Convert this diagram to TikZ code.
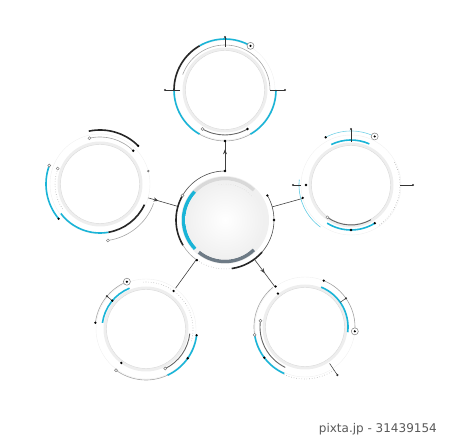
\documentclass[tikz,border=0pt]{standalone}
\usepackage{fontspec}
\newfontfamily\creditfont{DejaVu Sans}
\usetikzlibrary{arrows.meta, decorations.markings}
\definecolor{techcyan}{HTML}{1AB4D7}
\definecolor{slate}{HTML}{6E7B86}
\newcommand{\arcseg}[5][]{\draw[#1] ([shift={(#3:#5pt)}]#2.center) arc[start angle=#3, end angle=#4, radius=#5pt];}
\newcommand{\ringdot}[4][black]{\fill[#1] ([shift={(#3:#4pt)}]#2.center) circle (1.3pt);}
\newcommand{\opendot}[3]{\draw[gray, line width=0.5pt, fill=white] ([shift={(#2:#3pt)}]#1.center) circle (1.5pt);}
\newcommand{\spoke}[4]{\draw[black!80, line width=0.5pt] ([shift={(#2:#3pt)}]#1.center) -- ([shift={(#2:#4pt)}]#1.center); \fill[black!80] ([shift={(#2:#4pt)}]#1.center) circle (1.2pt);}
\newcommand{\knob}[3]{\draw[gray, line width=0.5pt, fill=white] ([shift={(#2:#3pt)}]#1.center) circle (3.5pt); \fill ([shift={(#2:#3pt)}]#1.center) circle (1.2pt);}

\begin{document}
\begin{tikzpicture}[x=1pt, y=1pt,
    sat/.style={circle, minimum size=100pt, inner sep=0pt, outer sep=0pt},
    link/.style={black!75, line width=0.6pt},
    midarrow/.style={postaction={decorate}, decoration={markings,
      mark=at position #1 with {\arrow{Stealth[length=5pt, width=4pt]}}}},
    cyanarc/.style={techcyan, line width=1.6pt},
    blackarc/.style={black!85, line width=1.6pt},
    grayarc/.style={gray!70, line width=0.6pt},
    dotarc/.style={gray!60, line width=0.6pt, dotted},
    darkarc/.style={black!60, line width=0.9pt}]
  \useasboundingbox (0,0) rectangle (450,438);

  \node[sat, minimum size=98pt] (hub) at (225,218) {};
  \node[sat] (top) at (225,348) {};
  \node[sat] (rgt) at (351,253) {};
  \node[sat] (lft) at (100,254) {};
  \node[sat] (blft) at (146,109) {};
  \node[sat] (brgt) at (305,111) {};

  \draw[link, midarrow=0.7] (hub) -- (top);
  \draw[link, midarrow=0.35] (lft) -- (hub);
  \draw[link] (hub) -- (rgt);
  \draw[link] (hub) -- (blft);
  \draw[link, midarrow=0.5] (hub) -- (brgt);

  \foreach \s in {top,rgt,lft,blft,brgt}{
    \draw[gray!12, line width=0.4pt] (\s) circle (50pt);
    \fill[gray!13] (\s) circle (42.5pt);
    \fill[white] (\s) circle (39.5pt);
    \draw[gray!30, line width=0.4pt] (\s) circle (39.5pt);
  }

  \fill[gray!12] (hub) circle (44pt);
  \arcseg[gray!30, line width=3.5pt]{hub}{46}{137}{41.5}
  \arcseg[techcyan, line width=3.5pt]{hub}{137}{224}{41.5}
  \arcseg[slate, line width=3.5pt]{hub}{231}{314}{41.5}
  \shade[inner color=white, outer color=gray!12] (hub) circle (39.5pt);
  \arcseg[gray!40, dotted]{hub}{100}{40}{36}
  \arcseg[black!70, line width=0.6pt]{hub}{90}{150}{49}
  \arcseg[blackarc]{hub}{150}{211}{49}
  \arcseg[grayarc]{hub}{211}{235}{49}
  \arcseg[dotarc]{hub}{235}{278}{49}
  \arcseg[blackarc]{hub}{278}{319}{49}
  \arcseg[black!70, line width=0.6pt]{hub}{-41}{30}{49}
  \foreach \a in {90,235,0,30}{\ringdot{hub}{\a}{49}}
  \opendot{hub}{150}{49}

  \arcseg[cyanarc]{top}{60}{120}{51}
  \arcseg[blackarc]{top}{120}{180}{51}
  \arcseg[cyanarc]{top}{180}{240}{51}
  \arcseg[grayarc]{top}{240}{300}{51}
  \arcseg[cyanarc]{top}{300}{360}{51}
  \arcseg[grayarc]{top}{0}{160}{45}
  \arcseg[darkarc]{top}{240}{300}{45}
  \opendot{top}{240}{45}
  \ringdot{top}{300}{45}
  \ringdot{top}{270}{51}
  \spoke{top}{90}{43}{53}
  \spoke{top}{0}{45}{60}
  \spoke{top}{180}{45}{60}
  \knob{top}{60}{51}

  \arcseg[cyanarc]{rgt}{66}{116}{45}
  \arcseg[cyanarc]{rgt}{238}{302}{45}
  \arcseg[techcyan!60, line width=0.6pt]{rgt}{64}{118}{54}
  \arcseg[techcyan!70, line width=0.6pt]{rgt}{174}{234}{52}
  \arcseg[dotarc]{rgt}{-55}{30}{49}
  \arcseg[darkarc]{rgt}{234}{300}{40}
  \spoke{rgt}{90}{43}{56}
  \spoke{rgt}{180}{50}{58}
  \spoke{rgt}{0}{49}{62}
  \ringdot{rgt}{118}{54}
  \ringdot{rgt}{180}{45}
  \ringdot{rgt}{270}{45}
  \ringdot{rgt}{302}{45}
  \ringdot{rgt}{195}{50}
  \opendot{rgt}{234}{40}
  \knob{rgt}{64}{54}

  \arcseg[blackarc]{lft}{45}{102}{54}
  \arcseg[grayarc]{lft}{45}{103}{47}
  \arcseg[cyanarc]{lft}{160}{220}{54}
  \arcseg[dotarc]{lft}{160}{215}{45}
  \arcseg[cyanarc]{lft}{217}{280}{49}
  \arcseg[blackarc]{lft}{280}{335}{49}
  \arcseg[grayarc]{lft}{278}{340}{57}
  \ringdot{lft}{45}{54}
  \ringdot{lft}{45}{47}
  \opendot{lft}{103}{47}
  \ringdot{lft}{220}{54}
  \opendot{lft}{160}{54}
  \opendot{lft}{160}{45}
  \opendot{lft}{278}{57}
  \ringdot[gray]{lft}{15}{50}

  \arcseg[cyanarc]{blft}{112}{172}{44}
  \arcseg[grayarc]{blft}{112}{173}{51}
  \arcseg[dotarc]{blft}{-15}{95}{47}
  \arcseg[cyanarc]{blft}{295}{353}{51}
  \arcseg[darkarc]{blft}{296}{354}{44}
  \arcseg[grayarc]{blft}{234}{295}{51}
  \spoke{blft}{140}{44}{51}
  \ringdot{blft}{140}{44}
  \ringdot{blft}{173}{51}
  \ringdot{blft}{353}{51}
  \ringdot{blft}{325}{51}
  \ringdot{blft}{234}{42}
  \ringdot{blft}{54}{47}
  \opendot{blft}{296}{44}
  \opendot{blft}{234}{51}
  \knob{blft}{112}{51}

  \arcseg[grayarc]{brgt}{-5}{68}{50}
  \arcseg[cyanarc]{brgt}{-7}{68}{43}
  \arcseg[grayarc]{brgt}{129}{189}{51}
  \arcseg[cyanarc]{brgt}{189}{246}{51}
  \arcseg[darkarc]{brgt}{172}{244}{45}
  \arcseg[dotarc]{brgt}{246}{304}{52}
  \spoke{brgt}{35}{43}{50}
  \spoke{brgt}{-56}{44}{58}
  \ringdot{brgt}{68}{50}
  \ringdot{brgt}{217}{51}
  \ringdot{brgt}{129}{43}
  \ringdot{brgt}{126}{50}
  \opendot{brgt}{172}{45}
  \opendot{brgt}{189}{51}
  \knob{brgt}{-5}{50}

  \node[anchor=base east, text=black!65, font=\creditfont\fontsize{12}{14}\selectfont,
    inner sep=0pt] (credit) at (437,5) {pixta.jp - 31439154};
\end{tikzpicture}
\end{document}
